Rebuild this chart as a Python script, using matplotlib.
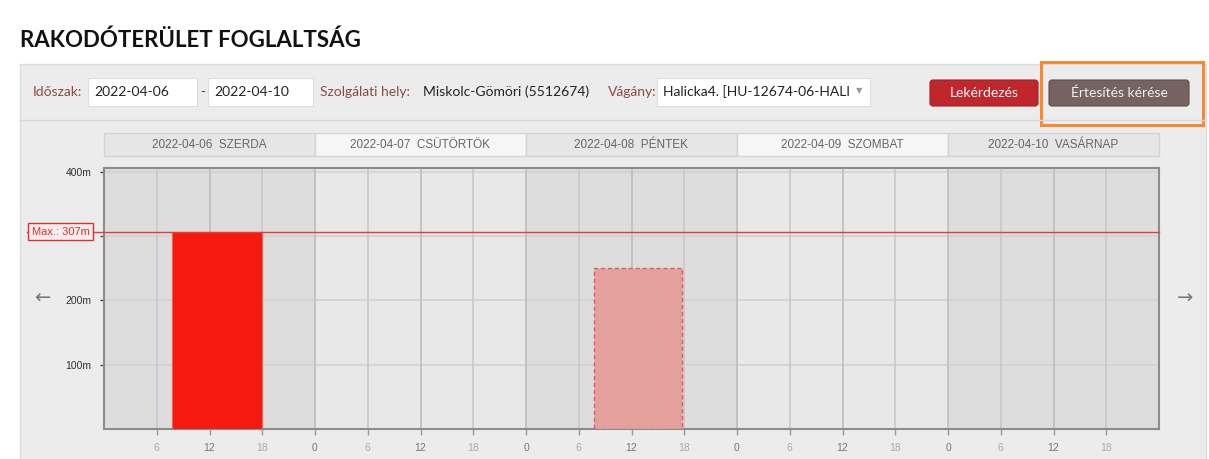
import numpy as np
import matplotlib
matplotlib.use('Agg')
import matplotlib.pyplot as plt
from matplotlib.patches import Rectangle, FancyBboxPatch
from matplotlib import transforms

# Data
DAYS = ['2022-04-06', '2022-04-07', '2022-04-08', '2022-04-09', '2022-04-10']
DAY_NAMES = ['SZERDA', 'CSÜTÖRTÖK', 'PÉNTEK', 'SZOMBAT', 'VASÁRNAP']
MAX_LEN = 307
Y_TICKS = [100, 200, 300, 400]

# occupied (solid) and planned (dashed) blocks, hours from start of period
BUSY_START = [7.75]
BUSY_END = [18.0]
BUSY_LEN = [307]
PLAN_START = [55.7]
PLAN_END = [65.7]
PLAN_LEN = [250]

W, H = 1209, 459
UI_FONT = ['Lato', 'DejaVu Sans']
CH_FONT = ['Liberation Sans', 'DejaVu Sans']

fig = plt.figure(figsize=(W / 100, H / 100), dpi=100)
fig.patch.set_facecolor('white')

# overlay in pixel coords for the page chrome
ui = fig.add_axes([0, 0, 1, 1])
ui.set_xlim(0, W)
ui.set_ylim(H, 0)
ui.axis('off')

ui.text(20, 40, 'RAKODÓTERÜLET FOGLALTSÁG', fontsize=16, fontweight='bold',
        color='#111111', va='center', ha='left', family=UI_FONT)

# panel
ui.add_patch(Rectangle((20, 64), 1186, 400, facecolor='#ececec', edgecolor='#dddddd', lw=1))
ui.plot([20, 1206], [120, 120], color='#d8d8d8', lw=1)

lab_col = '#8a4a4a'
fs = 10
ui.text(33, 92, 'Időszak:', fontsize=fs, color=lab_col, va='center', family=UI_FONT)
ui.add_patch(Rectangle((88, 78), 109, 28, facecolor='white', edgecolor='#dddddd', lw=0.8))
ui.text(94, 92, DAYS[0], fontsize=fs, color='#222222', va='center', family=UI_FONT)
ui.text(200, 92, '-', fontsize=fs, color='#444444', va='center', family=UI_FONT)
ui.add_patch(Rectangle((208, 78), 105, 28, facecolor='white', edgecolor='#dddddd', lw=0.8))
ui.text(214, 92, DAYS[-1], fontsize=fs, color='#222222', va='center', family=UI_FONT)
ui.text(320, 92, 'Szolgálati hely:', fontsize=fs, color=lab_col, va='center', family=UI_FONT)
t = ui.text(423, 92, 'Miskolc-Gömöri (5512674)', fontsize=fs, color='#222222', va='center', family=UI_FONT)
t.set_clip_path(Rectangle((423, 70), 178, 40, transform=ui.transData))
ui.text(608, 92, 'Vágány:', fontsize=fs, color=lab_col, va='center', family=UI_FONT)
ui.add_patch(Rectangle((657, 78), 213, 28, facecolor='white', edgecolor='#dddddd', lw=0.8))
ui.text(663, 92, 'Halicka4. [HU-12674-06-HALI', fontsize=fs, color='#222222', va='center', family=UI_FONT)
ui.text(859, 91, '▼', fontsize=6, color='#999999', va='center', ha='center', family=['DejaVu Sans'])

ui.add_patch(FancyBboxPatch((930, 80), 108, 26, boxstyle='round,pad=0,rounding_size=3',
                            facecolor='#c0272d', edgecolor='#a51f24', lw=0.8))
ui.text(984, 93, 'Lekérdezés', fontsize=fs, color='white', va='center', ha='center', family=UI_FONT)
ui.add_patch(FancyBboxPatch((1049, 80), 140, 26, boxstyle='round,pad=0,rounding_size=3',
                            facecolor='#766260', edgecolor='#5e4d4b', lw=0.8))
ui.text(1119, 93, 'Értesítés kérése', fontsize=fs, color='#f2f2f2', va='center', ha='center', family=UI_FONT)
ui.add_patch(Rectangle((1041, 62), 162, 63, facecolor='none', edgecolor='#f58a30', lw=2.2))

ui.text(42, 298, '←', fontsize=14, color='#777777', va='center', ha='center', family=['DejaVu Sans'])
ui.text(1185, 298, '→', fontsize=14, color='#777777', va='center', ha='center', family=['DejaVu Sans'])

# chart axes
x0, x1, ytop, ybot = 104, 1159, 168, 429
ax = fig.add_axes([x0 / W, (H - ybot) / H, (x1 - x0) / W, (ybot - ytop) / H])
n_days = len(DAYS)
ax.set_xlim(0, 24 * n_days)
ax.set_ylim(0, 406)

for i in range(n_days):
    band = '#dddddd' if i % 2 == 0 else '#e8e8e8'
    ax.axvspan(24 * i, 24 * (i + 1), color=band, zorder=0, lw=0)

# grid
for v in Y_TICKS:
    ax.axhline(v, color='#d2d2d2', lw=1.2, zorder=1)
hours = np.arange(6, 24 * n_days, 6)
for h in hours:
    ax.axvline(h, color='#bdbdbd' if h % 12 == 0 else '#c8c8c8', lw=1.2, zorder=1)

# blocks
for s, e, l in zip(BUSY_START, BUSY_END, BUSY_LEN):
    ax.add_patch(Rectangle((s, 0), e - s, l, facecolor='#f41a10', edgecolor='#f06060', lw=0.8, zorder=3))
for s, e, l in zip(PLAN_START, PLAN_END, PLAN_LEN):
    ax.add_patch(Rectangle((s, 0), e - s, l, facecolor='#e3a09c', edgecolor='#e85a5a',
                           lw=1.0, ls=(0, (3, 2)), zorder=3))

# max line, extends to the label on the left
trans = transforms.blended_transform_factory(ax.transAxes, ax.transData)
ax.plot([-0.073, 1.0], [MAX_LEN, MAX_LEN], color='#e8383a', lw=1.0, transform=trans,
        clip_on=False, zorder=4)
ax.text(-0.0685, MAX_LEN, 'Max.: %dm' % MAX_LEN, transform=trans, fontsize=8, color='#e03030',
        va='center', ha='left', family=CH_FONT, zorder=5,
        bbox=dict(boxstyle='square,pad=0.3', facecolor='#f4eeee', edgecolor='#e03030', lw=1.0))

# day headers
htrans = transforms.blended_transform_factory(ax.transData, ax.transAxes)
for i, (d, name) in enumerate(zip(DAYS, DAY_NAMES)):
    fc = '#e6e6e6' if i % 2 == 0 else '#f6f6f6'
    ax.add_patch(Rectangle((24 * i, 1.046), 24, 0.088, transform=htrans, facecolor=fc,
                           edgecolor='#d4d4d4', lw=1, clip_on=False))
    ax.text(24 * i + 12, 1.09, d + '  ' + name, transform=htrans, fontsize=8.5, color='#666666',
            ha='center', va='center', family=CH_FONT)

# ticks
ax.set_yticks(Y_TICKS)
ax.set_yticklabels(['%dm' % v for v in Y_TICKS], fontsize=7.5, color='#333333', family=CH_FONT)
ax.set_xticks(hours)
ax.set_xticklabels([str(h % 24) for h in hours], fontsize=7.5, family=CH_FONT)
for h, lab in zip(hours, ax.get_xticklabels()):
    lab.set_color('#777777' if h % 12 == 0 else '#aaaaaa')
ax.tick_params(axis='y', length=3, width=1, color='#444444', pad=6)
ax.tick_params(axis='x', length=4, width=1, color='#999999', pad=6)
for sp in ax.spines.values():
    sp.set_color('#8c8c8c')
    sp.set_linewidth(1.5)

fig.savefig('out.png', dpi=100, facecolor=fig.get_facecolor())
